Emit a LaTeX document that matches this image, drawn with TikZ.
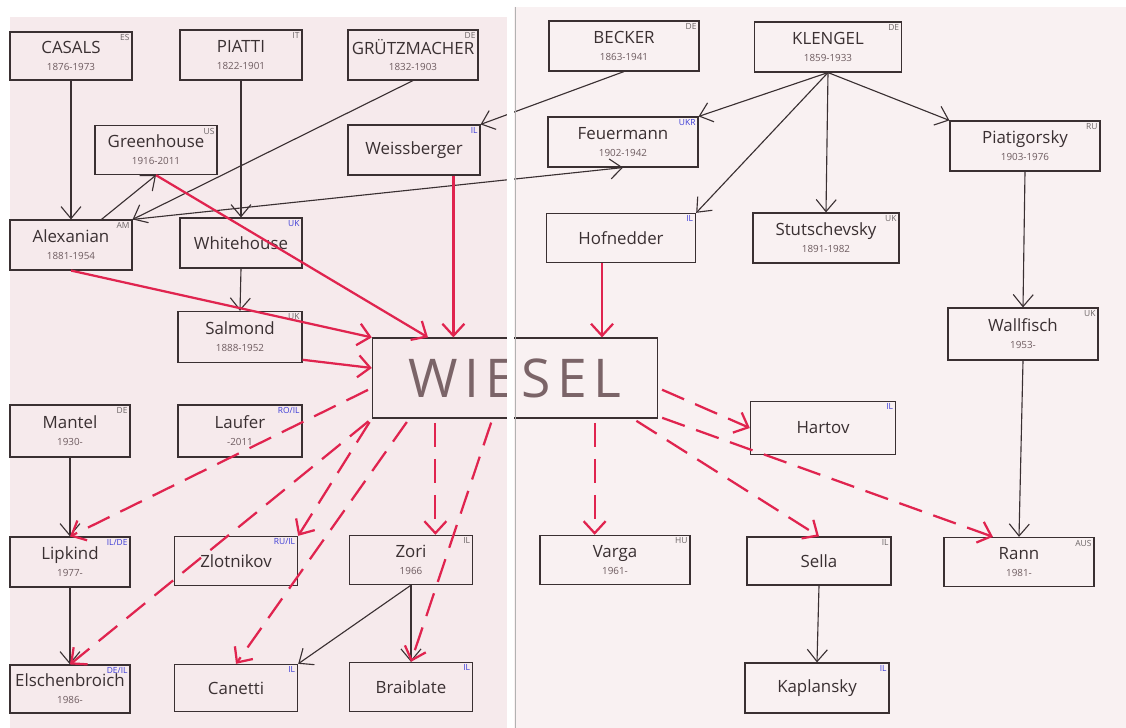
\documentclass[tikz,border=0pt]{standalone}
\usepackage{fontspec}
\setmainfont{Open Sans}
\usepackage{xcolor}
\usepackage{tikz}
\usetikzlibrary{arrows.meta}

\definecolor{ink}{HTML}{3A3032}
\definecolor{redink}{HTML}{E0244F}
\definecolor{codeblue}{HTML}{3B3BD6}
\definecolor{yearink}{HTML}{6E5C60}
\definecolor{wieselink}{HTML}{7B6468}
\definecolor{leftpage}{HTML}{F6EAEC}
\definecolor{rightpage}{HTML}{F9F1F2}
\newcommand{\lifespan}{\fontsize{7}{8}\selectfont\color{yearink}}

\begin{document}
\begin{tikzpicture}[x=0.025cm,y=-0.025cm]
\tikzstyle{cellist}=[draw=ink,line width=0.8pt,minimum width=3.05cm,minimum height=1.25cm,inner sep=1pt,align=center,text=ink,font=\fontsize{12}{12}\selectfont]
\tikzstyle{cc}=[anchor=north east,inner sep=2pt,font=\fontsize{6}{6}\selectfont,text=ink!75]
\tikzstyle{ccb}=[cc,text=codeblue]
\tikzstyle{taught}=[ink,line width=0.8pt,-{Straight Barb[length=3mm,width=5mm]}]
\tikzstyle{master}=[redink,line width=1.6pt,-{Straight Barb[length=3mm,width=5.5mm]}]
\tikzstyle{student}=[master,shorten <=3pt,dash pattern=on 6mm off 3mm]

\useasboundingbox (0,0) rectangle (1126,728);
\fill[white] (0,0) rectangle (1126,728);
\fill[leftpage] (10,17) rectangle (507,728);
\fill[rightpage] (514,7) rectangle (1126,728);

\node[cellist,minimum height=1.2cm,label={[cc]north east:ES}] (casals) at (71,56) {CASALS\\{\lifespan 1876-1973}};
\node[cellist,label={[cc]north east:IT}] (piatti) at (241,55) {PIATTI\\{\lifespan 1822-1901}};
\node[cellist,minimum width=3.25cm,label={[cc]north east:DE}] (grutz) at (413,55) {GRÜTZMACHER\\{\lifespan 1832-1903}};
\node[cellist,minimum height=1.23cm,label={[cc]north east:US}] (green) at (156,150) {Greenhouse\\{\lifespan 1916-2011}};
\node[cellist,minimum width=3.3cm,label={[ccb]north east:IL}] (weiss) at (414,150) {Weissberger};
\node[cellist,label={[cc]north east:AM}] (alex) at (71,245) {Alexanian\\{\lifespan 1881-1954}};
\node[cellist,label={[ccb]north east:UK}] (white) at (241,243) {Whitehouse};
\node[cellist,minimum width=3.1cm,minimum height=1.28cm,label={[cc]north east:UK}] (salmond) at (240,337) {Salmond\\{\lifespan 1888-1952}};
\node[draw=ink,line width=0.8pt,minimum width=7.13cm,minimum height=2cm,text=wieselink,font=\fontsize{38}{40}\selectfont\addfontfeature{LetterSpace=12}] (wiesel) at (515,378) {WIESEL};
\node[cellist,minimum width=3cm,minimum height=1.3cm,label={[cc]north east:DE}] (mantel) at (70,431) {Mantel\\{\lifespan 1930-}};
\node[cellist,minimum width=3.1cm,minimum height=1.3cm,label={[ccb]north east:RO/IL}] (laufer) at (240,431) {Laufer\\{\lifespan -2011}};
\node[cellist,minimum width=3cm,label={[ccb]north east:IL/DE}] (lipkind) at (70,562) {Lipkind\\{\lifespan 1977-}};
\node[cellist,minimum width=3.08cm,minimum height=1.23cm,label={[ccb]north east:RU/IL}] (zlot) at (236,561) {Zlotnikov};
\node[cellist,minimum width=3.08cm,minimum height=1.23cm,label={[cc]north east:IL}] (zori) at (411,560) {Zori\\{\lifespan 1966}};
\node[cellist,minimum width=3cm,minimum height=1.2cm,label={[ccb]north east:DE/IL}] (elsch) at (70,689) {Elschenbroich\\{\lifespan 1986-}};
\node[cellist,minimum width=3.08cm,minimum height=1.18cm,label={[ccb]north east:IL}] (canetti) at (236,688) {Canetti};
\node[cellist,minimum width=3.08cm,minimum height=1.23cm,label={[ccb]north east:IL}] (braib) at (411,687) {Braiblate};

\node[cellist,minimum width=3.75cm,label={[cc]north east:DE}] (becker) at (624,46) {BECKER\\{\lifespan 1863-1941}};
\node[cellist,minimum width=3.68cm,label={[cc]north east:DE}] (klengel) at (828,47) {KLENGEL\\{\lifespan 1859-1933}};
\node[cellist,minimum width=3.75cm,label={[ccb]north east:UKR}] (feuer) at (623,142) {Feuermann\\{\lifespan 1902-1942}};
\node[cellist,minimum width=3.75cm,label={[cc]north east:RU}] (piatig) at (1025,146) {Piatigorsky\\{\lifespan 1903-1976}};
\node[cellist,minimum width=3.73cm,minimum height=1.23cm,label={[ccb]north east:IL}] (hofn) at (621,238) {Hofnedder};
\node[cellist,minimum width=3.65cm,label={[cc]north east:UK}] (stut) at (826,238) {Stutschevsky\\{\lifespan 1891-1982}};
\node[cellist,minimum width=3.75cm,minimum height=1.3cm,label={[cc]north east:UK}] (wallf) at (1023,334) {Wallfisch\\{\lifespan 1953-}};
\node[cellist,minimum width=3.63cm,minimum height=1.33cm,label={[ccb]north east:IL}] (hartov) at (823,428) {Hartov};
\node[cellist,minimum width=3.75cm,minimum height=1.23cm,label={[cc]north east:HU}] (varga) at (615,560) {Varga\\{\lifespan 1961-}};
\node[cellist,minimum width=3.6cm,minimum height=1.2cm,label={[cc]north east:IL}] (sella) at (819,561) {Sella};
\node[cellist,minimum width=3.75cm,minimum height=1.23cm,label={[cc]north east:AUS}] (rann) at (1019,562) {Rann\\{\lifespan 1981-}};
\node[cellist,minimum width=3.6cm,label={[ccb]north east:IL}] (kapl) at (817,688) {Kaplansky};

\draw[taught] (casals.south) -- (alex.north);
\draw[taught] (piatti.south) -- (white.north);
\draw[taught] (grutz.south) -- (alex.north east);
\draw[taught] (alex.40) -- (green.south);
\draw[taught] (alex.north east) -- (feuer.south);
\draw[taught] (becker.south) -- (weiss.north east);
\draw[taught] (klengel.south) -- (feuer.north east);
\draw[taught] (klengel.south) -- (hofn.north east);
\draw[taught] (klengel.south) -- (stut.north);
\draw[taught] (klengel.south) -- (piatig.north west);
\draw[taught] (piatig.south) -- (wallf.north);
\draw[taught] (wallf.south) -- (rann.north);
\draw[taught] (white.south) -- (salmond.north);
\draw[taught] (mantel.south) -- (lipkind.north);
\draw[taught] (lipkind.south) -- (elsch.north);
\draw[taught] (zori.south) -- (braib.north);
\draw[taught] (zori.south) -- (canetti.north east);
\draw[taught] (sella.south) -- (kapl.north);

\draw[master] (green.south) -- (wiesel.155);
\draw[master] (weiss.-33) -- (weiss.-33 |- wiesel.north);
\draw[master] (alex.south) -- (wiesel.north west);
\draw[master] (salmond.-20) -- (wiesel.176);
\draw[master] (hofn.-127) -- (hofn.-127 |- wiesel.north);

\draw[student] (wiesel.184) -- (lipkind.north);
\draw[student] (wiesel.south west) -- (zlot.north east);
\draw[student] (wiesel.south west) -- (elsch.north);
\draw[student] (wiesel.-159) -- (canetti.north);
\draw[student] (wiesel.-153) -- (wiesel.-153 |- zori.north);
\draw[student] (wiesel.-119) -- (braib.north);
\draw[student] (wiesel.-27) -- (wiesel.-27 |- varga.north);
\draw[student] (wiesel.-19) -- (sella.north);
\draw[student] (wiesel.-4) -- (hartov.west);
\draw[student] (wiesel.-15) -- (rann.136);

\fill[white] (507,0) rectangle (514,728);
\draw[gray!60,line width=0.5pt] (515,7) -- (515,728);
\end{tikzpicture}
\end{document}
